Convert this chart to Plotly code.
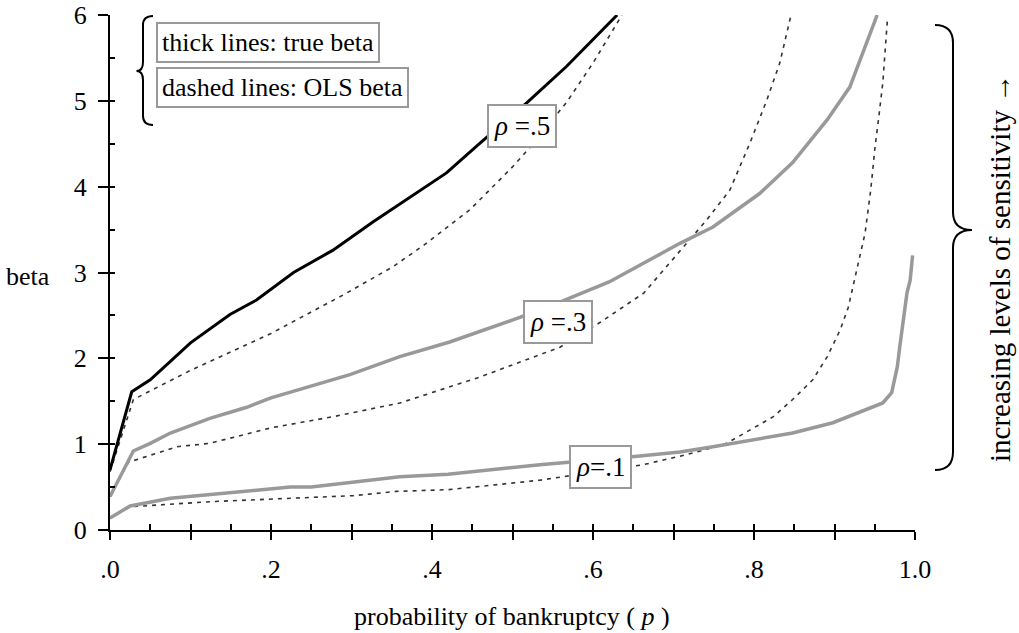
import plotly.graph_objects as go

# probability of bankruptcy (p) and beta
rho5_true_p = [0, 0.027, 0.05, 0.1, 0.149, 0.182, 0.228, 0.277, 0.327, 0.36, 0.418, 0.46, 0.518, 0.567, 0.63]
rho5_true_b = [0.70, 1.61, 1.75, 2.18, 2.51, 2.68, 3.0, 3.26, 3.59, 3.80, 4.16, 4.51, 4.98, 5.40, 6.0]

rho5_ols_p = [0, 0.029, 0.1, 0.2, 0.29, 0.352, 0.39, 0.447, 0.5, 0.522, 0.567, 0.6, 0.636]
rho5_ols_b = [0.68, 1.52, 1.86, 2.29, 2.74, 3.07, 3.32, 3.73, 4.23, 4.46, 4.98, 5.44, 6.0]

rho3_true_p = [0, 0.029, 0.05, 0.075, 0.124, 0.17, 0.2, 0.298, 0.36, 0.422, 0.51, 0.555, 0.62,
               0.708, 0.749, 0.807, 0.848, 0.891, 0.919, 0.94, 0.953]
rho3_true_b = [0.39, 0.92, 1.01, 1.13, 1.30, 1.43, 1.54, 1.81, 2.02, 2.19, 2.48, 2.64, 2.89,
               3.34, 3.53, 3.92, 4.28, 4.78, 5.16, 5.68, 6.0]

rho3_ols_p = [0, 0.023, 0.083, 0.124, 0.2, 0.277, 0.36, 0.456, 0.559, 0.609, 0.663, 0.712,
              0.741, 0.77, 0.795, 0.816, 0.832, 0.846]
rho3_ols_b = [0.39, 0.79, 0.97, 1.01, 1.19, 1.32, 1.48, 1.77, 2.13, 2.42, 2.76, 3.29,
              3.61, 3.96, 4.51, 5.01, 5.44, 6.0]

rho1_true_p = [0, 0.025, 0.075, 0.149, 0.224, 0.25, 0.36, 0.42, 0.534, 0.655, 0.708, 0.749,
               0.799, 0.848, 0.898, 0.94, 0.96, 0.971, 0.978, 0.981, 0.99, 0.994, 0.997]
rho1_true_b = [0.14, 0.28, 0.37, 0.43, 0.50, 0.50, 0.62, 0.65, 0.76, 0.86, 0.91, 0.97,
               1.05, 1.13, 1.25, 1.40, 1.48, 1.60, 1.90, 2.13, 2.76, 2.91, 3.2]

rho1_ols_p = [0, 0.025, 0.124, 0.2, 0.302, 0.356, 0.42, 0.534, 0.662, 0.708, 0.737, 0.766,
              0.799, 0.824, 0.848, 0.873, 0.891, 0.907, 0.917, 0.923, 0.938, 0.945, 0.95,
              0.955, 0.96, 0.966]
rho1_ols_b = [0.14, 0.27, 0.33, 0.36, 0.40, 0.45, 0.47, 0.58, 0.76, 0.86, 0.93, 1.01,
              1.19, 1.32, 1.52, 1.75, 2.02, 2.33, 2.59, 2.85, 3.46, 3.96, 4.43,
              4.81, 5.21, 5.98]

x_tickvals = [0, 0.1, 0.2, 0.3, 0.4, 0.5, 0.6, 0.7, 0.8, 0.9, 1.0]
x_ticktext = [".0", "", ".2", "", ".4", "", ".6", "", ".8", "", "1.0"]

# rho labels: (text, p, beta)
rho_labels = [("<i>ρ</i> =.5", 0.512, 4.71), ("<i>ρ</i> =.3", 0.556, 2.42), ("<i>ρ</i>=.1", 0.609, 0.73)]

FONT = "Liberation Serif, Times New Roman, serif"
GRAY = "#999999"
DASH_COL = "#333333"

W, H = 1019, 633
# plot area on screen: x 110..915, y 15..530
L, T = 110, 15
R, B = W - 915, H - 530


def px2paper(px, py):
    # screen pixel -> paper coords
    return (px - L) / (W - L - R), (H - B - py) / (H - T - B)


def brace_path(x_end, x_spine, x_tip, y_top, y_mid, y_bot, r):
    # curly brace in screen pixels -> svg path in paper coords
    pts = lambda x, y: "%.5f,%.5f" % px2paper(x, y)
    return ("M " + pts(x_end, y_top) +
            " Q " + pts(x_spine, y_top) + " " + pts(x_spine, y_top + r) +
            " L " + pts(x_spine, y_mid - r) +
            " Q " + pts(x_spine, y_mid) + " " + pts(x_tip, y_mid) +
            " Q " + pts(x_spine, y_mid) + " " + pts(x_spine, y_mid + r) +
            " L " + pts(x_spine, y_bot - r) +
            " Q " + pts(x_spine, y_bot) + " " + pts(x_end, y_bot))


fig = go.Figure()

for p, b in [(rho1_ols_p, rho1_ols_b), (rho3_ols_p, rho3_ols_b), (rho5_ols_p, rho5_ols_b)]:
    fig.add_trace(go.Scatter(x=p, y=b, mode="lines", showlegend=False, hoverinfo="skip",
                             line=dict(color=DASH_COL, width=1.6, dash="4px,5px")))

fig.add_trace(go.Scatter(x=rho1_true_p, y=rho1_true_b, mode="lines", showlegend=False,
                         line=dict(color=GRAY, width=3.5)))
fig.add_trace(go.Scatter(x=rho3_true_p, y=rho3_true_b, mode="lines", showlegend=False,
                         line=dict(color=GRAY, width=3.5)))
fig.add_trace(go.Scatter(x=rho5_true_p, y=rho5_true_b, mode="lines", showlegend=False,
                         line=dict(color="black", width=3)))

# empty trace so the overlay axes (inside ticks) get drawn
fig.add_trace(go.Scatter(x=[None], y=[None], xaxis="x2", yaxis="y2", showlegend=False,
                         hoverinfo="skip"))

for text, p, b in rho_labels:
    fig.add_annotation(x=p, y=b, text=text, showarrow=False, bgcolor="white",
                       bordercolor=GRAY, borderwidth=2, borderpad=5,
                       font=dict(family=FONT, size=27, color="black"))

fig.add_annotation(x=0.057, y=5.68, xanchor="left", text="thick lines: true beta", showarrow=False,
                   bgcolor="white", bordercolor=GRAY, borderwidth=2, borderpad=4,
                   font=dict(family=FONT, size=26, color="black"))
fig.add_annotation(x=0.057, y=5.15, xanchor="left", text="dashed lines: OLS beta", showarrow=False,
                   bgcolor="white", bordercolor=GRAY, borderwidth=2, borderpad=4,
                   font=dict(family=FONT, size=26, color="black"))

# axis titles and side note
bx, by = px2paper(28, 276)
fig.add_annotation(xref="paper", yref="paper", x=bx, y=by, xanchor="center", yanchor="middle",
                   text="beta", showarrow=False, font=dict(family=FONT, size=26, color="black"))
tx, ty = px2paper(512, 616)
fig.add_annotation(xref="paper", yref="paper", x=tx, y=ty, xanchor="center", yanchor="middle",
                   text="probability of bankruptcy ( <i>p</i> )", showarrow=False,
                   font=dict(family=FONT, size=26, color="black"))
sx, sy = px2paper(1000, 268)
fig.add_annotation(xref="paper", yref="paper", x=sx, y=sy, xanchor="center", yanchor="middle",
                   text="increasing levels of sensitivity →", showarrow=False, textangle=-90,
                   font=dict(family=FONT, size=29, color="black"))

fig.add_shape(type="path", xref="paper", yref="paper",
              path=brace_path(153, 143, 136.5, 16, 71, 125, 9),
              line=dict(color="black", width=2))
fig.add_shape(type="path", xref="paper", yref="paper",
              path=brace_path(935, 953, 972, 25, 230, 470, 18),
              line=dict(color="black", width=2))

tick_font = dict(family=FONT, size=26, color="black")

fig.update_layout(
    width=W, height=H,
    margin=dict(l=L, r=R, t=T, b=B, autoexpand=False),
    paper_bgcolor="white", plot_bgcolor="white",
    xaxis=dict(range=[0, 1], tickvals=x_tickvals, ticktext=x_ticktext, ticks="outside",
               ticklen=8, tickwidth=2, tickcolor="black", showline=True, linecolor="black",
               linewidth=2, showgrid=False, zeroline=False, tickfont=tick_font,
               ticklabelstandoff=7, automargin=False),
    yaxis=dict(range=[0, 6], dtick=1, ticks="outside", ticklen=10, tickwidth=2,
               tickcolor="black", showline=True, linecolor="black", linewidth=2,
               showgrid=False, zeroline=False, tickfont=tick_font, ticklabelstandoff=6,
               automargin=False),
    xaxis2=dict(overlaying="x", anchor="y2", range=[0, 1], dtick=0.05, tick0=0,
                ticks="inside", ticklen=6, tickwidth=2, tickcolor="black",
                showticklabels=False, showgrid=False, zeroline=False, showline=False,
                automargin=False),
    yaxis2=dict(overlaying="y", anchor="x2", side="left", range=[0, 6], dtick=0.5,
                ticks="inside", ticklen=5, tickwidth=2, tickcolor="black",
                showticklabels=False, showgrid=False, zeroline=False, showline=False,
                automargin=False),
)

# drop the default 8px page margin so the figure sits at the window's corner
fig.write_html("out.html", config={"displayModeBar": False},
               post_script="document.body.style.margin='0px';")
